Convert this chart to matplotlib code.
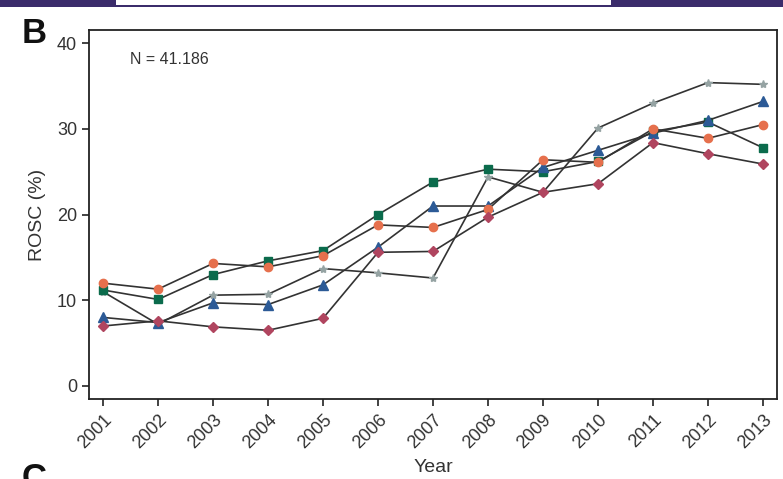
import matplotlib.pyplot as plt
import matplotlib.patches as patches

plt.rcParams['font.family'] = ['Liberation Sans', 'DejaVu Sans']

years = list(range(2001, 2014))

# ROSC (%) per year, one list per group
rosc_star = [11.0, 7.2, 10.6, 10.7, 13.7, 13.2, 12.6, 24.4, 22.6, 30.1, 33.0, 35.4, 35.2]
rosc_square = [11.2, 10.1, 13.0, 14.6, 15.8, 20.0, 23.8, 25.3, 25.0, 26.2, 29.7, 30.8, 27.8]
rosc_triangle = [8.0, 7.4, 9.7, 9.5, 11.8, 16.2, 21.0, 21.0, 25.5, 27.5, 29.5, 31.0, 33.2]
rosc_circle = [12.0, 11.3, 14.3, 13.9, 15.2, 18.8, 18.5, 20.6, 26.4, 26.1, 30.0, 28.9, 30.5]
rosc_diamond = [7.0, 7.6, 6.9, 6.5, 7.9, 15.6, 15.7, 19.7, 22.6, 23.6, 28.4, 27.1, 25.9]

fig = plt.figure(figsize=(7.83, 4.79), dpi=100)

# dark strip along the top edge
fig.patches.append(patches.Rectangle((0, 0.985), 1, 0.015, transform=fig.transFigure,
                                     facecolor='#3b2c6b', edgecolor='none', zorder=0))
fig.patches.append(patches.Rectangle((0.148, 0.989), 0.632, 0.011, transform=fig.transFigure,
                                     facecolor='white', edgecolor='none', zorder=1))

ax = fig.add_axes([0.1137, 0.167, 0.8786, 0.770])

line_col = '#333333'
ax.plot(years, rosc_star, color=line_col, lw=1.2, marker='*', ms=6,
        mfc='#95a3a3', mec='#95a3a3', zorder=3)
ax.plot(years, rosc_square, color=line_col, lw=1.2, marker='s', ms=6,
        mfc='#0b6b4c', mec='#0b6b4c', zorder=3)
ax.plot(years, rosc_triangle, color=line_col, lw=1.2, marker='^', ms=6.5,
        mfc='#2c5a96', mec='#2c5a96', zorder=3)
ax.plot(years, rosc_circle, color=line_col, lw=1.2, marker='o', ms=6,
        mfc='#e6704d', mec='#e6704d', zorder=3)
ax.plot(years, rosc_diamond, color=line_col, lw=1.2, marker='D', ms=5.5,
        mfc='#b0455f', mec='#b0455f', zorder=3)

ax.set_xlim(2000.745, 2013.255)
ax.set_ylim(-1.52, 41.52)
ax.set_yticks([0, 10, 20, 30, 40])
ax.set_xticks(years)
ax.set_xticklabels([str(y) for y in years], rotation=45, ha='right',
                   rotation_mode='anchor')
ax.tick_params(axis='both', direction='out', length=5, width=1.2,
               labelsize=13, colors='#222222', labelcolor='#333333')
ax.tick_params(axis='x', pad=4)
for s in ax.spines.values():
    s.set_linewidth(1.3)
    s.set_color('#222222')

ax.set_ylabel('ROSC (%)', fontsize=14, color='#333333', labelpad=8)
ax.set_xlabel('Year', fontsize=14, color='#333333', labelpad=5)

ax.text(0.06, 0.92, 'N = 41.186', transform=ax.transAxes, fontsize=11.5,
        color='#333333', va='center')

fig.text(0.027, 0.93, 'B', fontsize=25, fontweight='bold', color='#111111', va='center')
fig.text(0.027, 0.0, 'C', fontsize=25, fontweight='bold', color='#111111', va='center')

fig.savefig('out.png', dpi=100)
